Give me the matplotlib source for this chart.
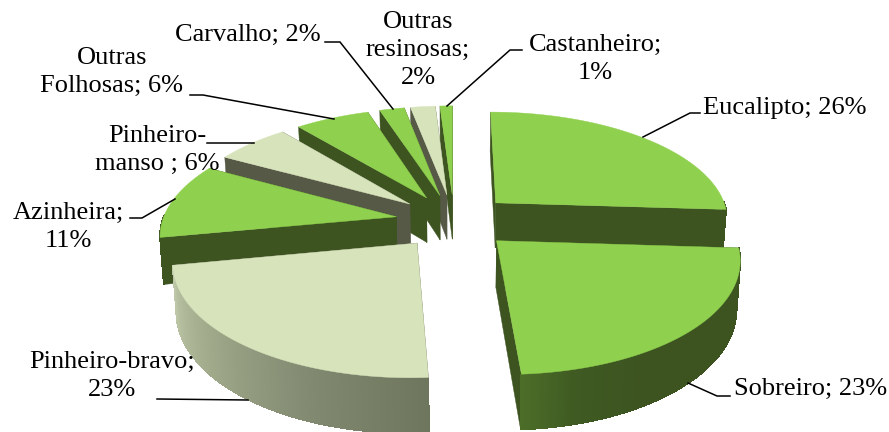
import numpy as np
import matplotlib
matplotlib.use("Agg")
import matplotlib.pyplot as plt
from matplotlib.colors import to_rgb

# ---- data ----
categories = ["Eucalipto", "Sobreiro", "Pinheiro-bravo", "Azinheira", "Pinheiro-manso",
              "Outras Folhosas", "Carvalho", "Outras resinosas", "Castanheiro"]
values = [26, 23, 23, 11, 6, 6, 2, 2, 1]
label_texts = ["Eucalipto; 26%", "Sobreiro; 23%", "Pinheiro-bravo;\n23%", "Azinheira;\n11%",
               "Pinheiro-\nmanso ; 6%", "Outras\nFolhosas; 6%", "Carvalho; 2%",
               "Outras\nresinosas;\n2%", "Castanheiro;\n1%"]
shades = ["green", "green", "pale", "green", "pale", "green", "green", "pale", "green"]

# ---- styles ----
STYLE = {
    "green": dict(top="#8fd04e", wall="#3d5421",
                  rim=[(0, "#3d5421"), (150, "#3d5421"), (165, "#3f5a22"), (177, "#4d6f29"), (178, "#3d5421"), (360, "#3d5421")]),
    "pale": dict(top="#d7e3bb", wall="#565946",
                 rim=[(170, "#6a7159"), (200, "#808870"), (230, "#a0a98a"), (262, "#c2ccab"), (360, "#c2ccab")]),
}
CX, CY = 454, 221          # pie centre on the canvas
RX, RY = 234, 108.5        # radii of the unit disc
PERSP = 0.1426             # perspective strength
EXPLODE = 0.2504           # slice explosion
DEPTH = 46                 # thickness
BOTTOM_SHRINK = 0.987


def project(X, Y, low=False):
    X, Y = np.asarray(X, float), np.asarray(Y, float)
    s = 1 / (1 - PERSP * Y)
    sx = RX * X * s
    sy = CY + RY * Y * s
    if low:
        sx = sx * BOTTOM_SHRINK
        sy = sy + DEPTH * s
    return CX + sx, sy


fig = plt.figure(figsize=(8.89, 4.32), dpi=100)
ax = fig.add_axes([0, 0, 1, 1])
ax.set_xlim(0, 889)
ax.set_ylim(432, 0)
ax.axis("off")

fractions = np.array(values) / np.sum(values)
edges = np.concatenate([[0], np.cumsum(fractions)]) * 360
slices = []
for i in range(len(values)):
    a0, a1 = edges[i], edges[i + 1]
    mid = np.radians((a0 + a1) / 2)
    ox, oy = EXPLODE * np.sin(mid), -EXPLODE * np.cos(mid)
    slices.append((oy, i, a0, a1, ox))

# painter's order: farthest slice first
for oy, i, a0, a1, ox in sorted(slices, key=lambda t: t[0]):
    st = STYLE[shades[i]]
    n = max(int(a1 - a0) * 2, 8)
    th = np.radians(np.linspace(a0, a1, n + 1))
    X = ox + np.sin(th)
    Y = oy - np.cos(th)

    # radial walls
    for k in (0, -1):
        rad = np.linspace(0, 1, 20)
        wx = ox + rad * np.sin(th[k])
        wy = oy - rad * np.cos(th[k])
        tx, ty = project(wx, wy)
        bx, by = project(wx, wy, low=True)
        ax.fill(np.r_[tx, bx[::-1]], np.r_[ty, by[::-1]], color=st["wall"], lw=0.3)

    # curved rim, only the part that faces the viewer
    stops = st["rim"]
    ang = [s[0] for s in stops]
    rgb = np.array([to_rgb(s[1]) for s in stops])
    tx, ty = project(X, Y)
    bx, by = project(X, Y, low=True)
    deg = np.degrees(th)
    vis = -np.cos(th) >= -0.02
    if vis.sum() >= 2:
        mean_col = [np.interp(deg[vis].mean(), ang, rgb[:, c]) for c in range(3)]
        ax.fill(np.r_[tx[vis], bx[vis][::-1]], np.r_[ty[vis], by[vis][::-1]], color=mean_col, lw=0.5)
    for j in range(len(th) - 1):
        if not (vis[j] and vis[j + 1]):
            continue
        col = [np.interp(deg[j], ang, rgb[:, c]) for c in range(3)]
        ax.fill([tx[j], tx[j + 1], bx[j + 1], bx[j]], [ty[j], ty[j + 1], by[j + 1], by[j]],
                facecolor=col, edgecolor=col, lw=0.6, antialiased=False)

    # top face
    ax_, ay_ = project(ox, oy)
    ax.fill(np.r_[ax_, tx], np.r_[ay_, ty], color=st["top"], lw=0.3)

# ---- labels and leader lines ----
FONT = dict(family="Liberation Serif", fontsize=19, color="black", ha="center", va="center",
            linespacing=1.36, zorder=10)
label_pos = [(785, 108), (811, 389), (112, 376), (68, 227), (157, 150), (112, 72),
             (248, 35), (418, 50), (595, 59)]
for txt, (x, y) in zip(label_texts, label_pos):
    ax.text(x, y, txt, **FONT)

leaders = [
    [(643, 137), (690, 113), (700, 113)],
    [(688, 383), (717, 396), (730, 396)],
    [(157, 399), (248, 400)],
    [(175, 199), (142, 218), (130, 218)],
    [(207, 143), (254, 143)],
    [(190, 95), (203, 95), (334, 119)],
    [(325, 42), (340, 42), (393, 109)],
    [(447, 106), (510, 50), (522, 50)],
]
for pts in leaders:
    px, py = zip(*pts)
    ax.plot(px, py, color="black", lw=1.1, zorder=9, solid_joinstyle="miter")

fig.savefig("out.png", dpi=100)
